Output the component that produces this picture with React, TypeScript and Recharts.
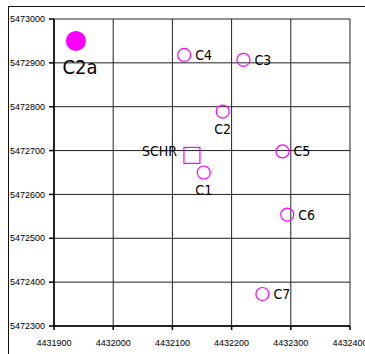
import { ScatterChart, Scatter, XAxis, YAxis, CartesianGrid } from 'recharts';

// site coordinates (easting / northing)
const siteNames = ['C1', 'C2', 'C3', 'C4', 'C5', 'C6', 'C7'];
const siteEast = [4432153, 4432185, 4432220, 4432120, 4432286, 4432294, 4432252];
const siteNorth = [5472650, 5472789, 5472907, 5472918, 5472698, 5472554, 5472373];

const refName = 'SCHR';
const refEast = 4432133;
const refNorth = 5472689;

const mainName = 'C2a';
const mainEast = 4431937;
const mainNorth = 5472950;

const xTicks = [4431900, 4432000, 4432100, 4432200, 4432300, 4432400];
const yTicks = [5472300, 5472400, 5472500, 5472600, 5472700, 5472800, 5472900, 5473000];

// where the label sits relative to the marker
const labelSide: Record<string, string> = {
  C1: 'below',
  C2: 'below',
  C3: 'right',
  C4: 'right',
  C5: 'right',
  C6: 'right',
  C7: 'right',
};

const sites = siteNames.map((name, i) => ({ name, x: siteEast[i], y: siteNorth[i] }));
const refSite = [{ name: refName, x: refEast, y: refNorth }];
const mainSite = [{ name: mainName, x: mainEast, y: mainNorth }];

const MAGENTA = '#ff00ff';
const labelFont = "'Liberation Sans Narrow', 'Arial Narrow', 'DejaVu Sans Condensed', sans-serif";

function SiteMarker(props: any) {
  const { cx, cy, payload } = props;
  const side = labelSide[payload.name];
  return (
    <g>
      <circle cx={cx} cy={cy} r={6.5} fill="none" stroke={MAGENTA} strokeWidth={1.2} />
      {side === 'below' ? (
        <text x={cx} y={cy + 17} textAnchor="middle" dominantBaseline="central" fontSize={14} fontFamily={labelFont} fill="#000">
          {payload.name}
        </text>
      ) : (
        <text x={cx + 11} y={cy} textAnchor="start" dominantBaseline="central" fontSize={14} fontFamily={labelFont} fill="#000">
          {payload.name}
        </text>
      )}
    </g>
  );
}

function RefMarker(props: any) {
  const { cx, cy, payload } = props;
  return (
    <g>
      <rect x={cx - 8} y={cy - 8} width={16} height={16} fill="none" stroke={MAGENTA} strokeWidth={1.2} />
      <text x={cx - 15} y={cy - 4} textAnchor="end" dominantBaseline="central" fontSize={14} fontFamily={labelFont} fill="#000">
        {payload.name}
      </text>
    </g>
  );
}

function MainMarker(props: any) {
  const { cx, cy, payload } = props;
  return (
    <g>
      <circle cx={cx} cy={cy} r={10} fill={MAGENTA} />
      <text x={cx + 4} y={cy + 26} textAnchor="middle" dominantBaseline="central" fontSize={20} fontFamily={labelFont} fill="#000">
        {payload.name}
      </text>
    </g>
  );
}

export default function App() {
  return (
    <div style={{ position: 'absolute', left: 0, top: 0, width: 365, height: 354, background: '#fff' }}>
      <div
        style={{
          position: 'absolute',
          left: 8,
          top: 6,
          width: 400,
          height: 400,
          borderLeft: '1px solid #111',
          borderTop: '1px solid #111',
          pointerEvents: 'none',
        }}
      />
      <ScatterChart width={365} height={354} margin={{ top: 19, right: 15, bottom: 0, left: 0 }}>
        <CartesianGrid stroke="#222" strokeWidth={1} />
        <XAxis
          type="number"
          dataKey="x"
          domain={[4431900, 4432400]}
          ticks={xTicks}
          interval={0}
          height={28}
          tickSize={4}
          tickMargin={10}
          stroke="#000"
          strokeWidth={1.5}
          tick={{ fontSize: 9, fill: '#000', fontFamily: "'Liberation Sans', Arial, sans-serif" }}
        />
        <YAxis
          type="number"
          dataKey="y"
          domain={[5472300, 5473000]}
          ticks={yTicks}
          interval={0}
          width={54}
          tickSize={5}
          tickMargin={4}
          stroke="#000"
          strokeWidth={1.5}
          tick={{ fontSize: 9, fill: '#000', fontFamily: "'Liberation Sans', Arial, sans-serif" }}
        />
        <Scatter data={sites} shape={SiteMarker} isAnimationActive={false} />
        <Scatter data={refSite} shape={RefMarker} isAnimationActive={false} />
        <Scatter data={mainSite} shape={MainMarker} isAnimationActive={false} />
      </ScatterChart>
    </div>
  );
}
